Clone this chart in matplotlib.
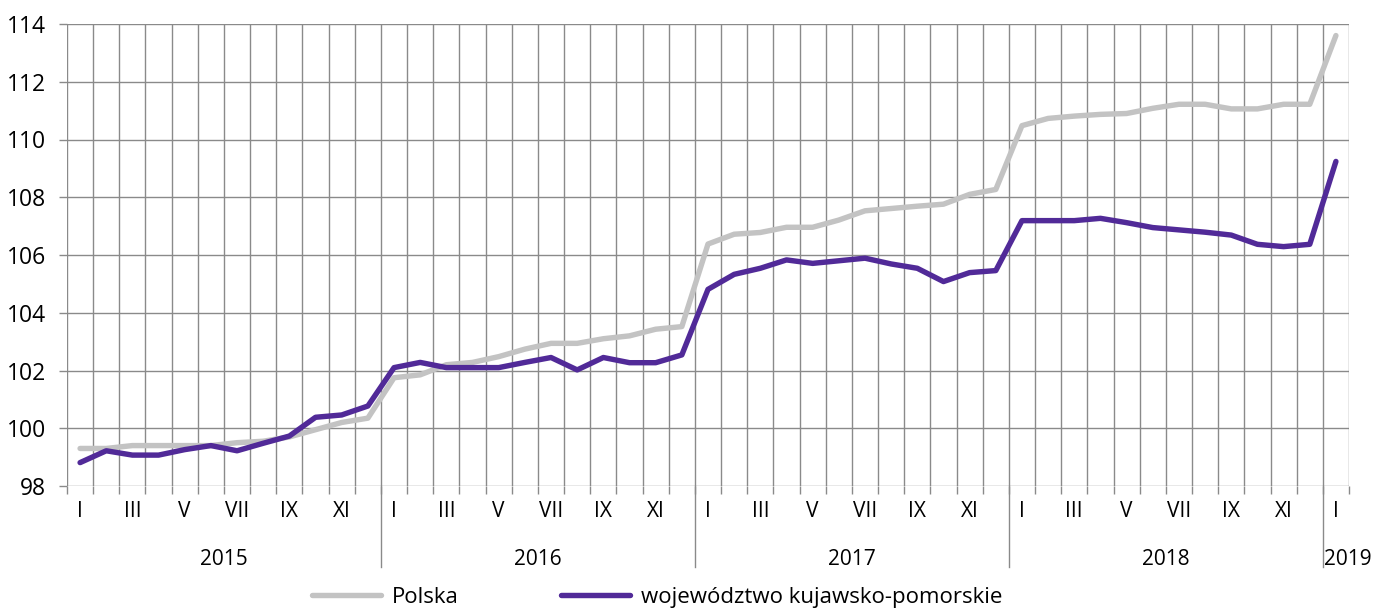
import matplotlib
matplotlib.use('Agg')
import matplotlib.pyplot as plt
import matplotlib.transforms as mtransforms
import numpy as np

plt.rcParams['font.family'] = ['Open Sans', 'DejaVu Sans']

# Dane: styczeń 2015 - styczeń 2019
lata    = ['2015', '2016', '2017', '2018', '2019']
miesiace = ['I', '', 'III', '', 'V', '', 'VII', '', 'IX', '', 'XI', '']

polska = [
    99.3, 99.3, 99.4, 99.4, 99.4, 99.4, 99.5, 99.55, 99.7, 99.95, 100.2, 100.35,
    101.75, 101.85, 102.2, 102.28, 102.48, 102.74, 102.94, 102.94, 103.1, 103.2, 103.43, 103.52,
    106.38, 106.72, 106.78, 106.96, 106.96, 107.21, 107.53, 107.61, 107.69, 107.76, 108.1, 108.27,
    110.48, 110.73, 110.81, 110.87, 110.9, 111.08, 111.22, 111.22, 111.06, 111.06, 111.22, 111.22,
    113.6,
]
kujawsko_pomorskie = [
    98.81, 99.22, 99.07, 99.07, 99.26, 99.4, 99.22, 99.48, 99.73, 100.38, 100.46, 100.77,
    102.1, 102.28, 102.1, 102.1, 102.1, 102.28, 102.45, 102.02, 102.45, 102.27, 102.27, 102.54,
    104.81, 105.33, 105.54, 105.83, 105.71, 105.8, 105.89, 105.69, 105.54, 105.08, 105.39, 105.46,
    107.19, 107.19, 107.19, 107.27, 107.12, 106.95, 106.87, 106.79, 106.69, 106.37, 106.29, 106.37,
    109.24,
]

SZARY   = '#c3c3c3'
FIOLET  = '#512a98'
SIATKA  = '#8a8a8a'

x = np.arange(len(polska))

fig = plt.figure(figsize=(13.81, 6.08), dpi=100)
ax = fig.add_axes([67 / 1381, 1 - 486 / 608, (1349 - 67) / 1381, (486 - 24) / 608])

ax.plot(x, polska, color=SZARY, lw=3.9, label='Polska', solid_capstyle='round', zorder=3)
ax.plot(x, kujawsko_pomorskie, color=FIOLET, lw=3.9, label='województwo kujawsko-pomorskie',
        solid_capstyle='round', zorder=4)

ax.set_xlim(-0.5, len(x) - 0.5)
ax.set_ylim(98, 114)
ax.set_yticks(np.arange(98, 115, 2))

# Granice miesięcy
ax.set_xticks(np.arange(len(x) + 1) - 0.5)
ax.set_xticklabels([])
ax.tick_params(axis='x', length=6, color=SIATKA, width=1)
ax.tick_params(axis='y', length=6, color=SIATKA, width=1, labelsize=16.5, pad=9)
ax.grid(True, color=SIATKA, lw=1, zorder=0)
for s in ax.spines.values():
    s.set_visible(False)

# Etykiety miesięcy i lat
trans = mtransforms.blended_transform_factory(ax.transData, ax.transAxes)
for i in x:
    etyk = miesiace[i % 12]
    if etyk:
        ax.text(i, -0.056, etyk, transform=trans, ha='center', va='center', fontsize=15)

for k, rok in enumerate(lata):
    if k < len(lata) - 1:
        ax.text(12 * k + 5.5, -0.16, rok, transform=trans, ha='center', va='center', fontsize=15)
    else:
        ax.text(12 * k + 0.45, -0.16, rok, transform=trans, ha='center', va='center', fontsize=15)
    if k > 0:
        ax.axvline(12 * k - 0.5, ymin=-0.175, ymax=0, color=SIATKA, lw=1, clip_on=False)

fig.legend(loc='center', bbox_to_anchor=(0.476, 0.018), ncol=2, frameon=False, fontsize=16,
           handlelength=3.1, handletextpad=0.5, columnspacing=4.6)

fig.savefig('out.png', dpi=100)
